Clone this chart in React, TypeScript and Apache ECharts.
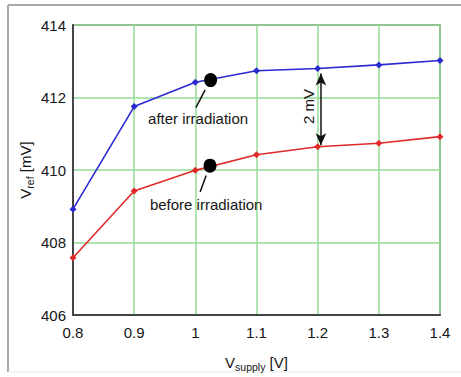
import React, { useEffect, useRef } from "react";
import * as echarts from "echarts";

const supply = [0.8, 0.9, 1.0, 1.1, 1.2, 1.3, 1.4];
const afterIrr = [408.92, 411.75, 412.42, 412.74, 412.8, 412.9, 413.02];
const beforeIrr = [407.58, 409.42, 409.99, 410.42, 410.64, 410.74, 410.92];
const dotPoints = [
  [1.025, 412.48],
  [1.024, 410.12],
];
const yTicks = { min: 406, max: 414, interval: 2 };
const xTicks = { min: 0.8, max: 1.4, interval: 0.1 };
const labelAfter = "after irradiation";
const labelBefore = "before irradiation";
const gapLabel = "2 mV";
const gapX = 1.2053;
const gapTop = 412.66;
const gapBottom = 410.68;

export default function App() {
  const ref = useRef<HTMLDivElement>(null);
  useEffect(() => {
    if (!ref.current) return;
    const chart = echarts.init(ref.current, undefined, { renderer: "svg" });
    const font = "Liberation Sans, Arial, sans-serif";
    const ink = "#151515";
    const zip = (ys: number[]) => supply.map((x, i) => [x, ys[i]]);
    const rich = {
      v: { fontFamily: font, fontSize: 15, color: ink, lineHeight: 20, verticalAlign: "middle" },
      s: { fontFamily: font, fontSize: 10.5, color: ink, lineHeight: 8, verticalAlign: "bottom" },
    };
    chart.setOption({
      animation: false,
      backgroundColor: "#ffffff",
      grid: {
        left: 73,
        right: 21,
        top: 25,
        bottom: 61,
        show: true,
        borderColor: "#5a5a5a",
        borderWidth: 1.5,
      },
      xAxis: {
        type: "value",
        min: xTicks.min,
        max: xTicks.max,
        interval: xTicks.interval,
        axisLine: { show: true, lineStyle: { color: "#444", width: 2 } },
        axisTick: { show: false },
        axisLabel: {
          margin: 10,
          fontFamily: font,
          fontSize: 15,
          color: ink,
          formatter: (v: number) => String(Math.round(v * 10) / 10),
        },
        splitLine: { show: true, lineStyle: { color: "#93dc93", width: 1.5 } },
        name: "{v|V}{s|supply}{v| [V]}",
        nameLocation: "middle",
        nameMoveOverlap: false,
        nameGap: 37,
        nameTextStyle: { rich },
      },
      yAxis: {
        type: "value",
        min: yTicks.min,
        max: yTicks.max,
        interval: yTicks.interval,
        axisLine: { show: true, lineStyle: { color: "#444", width: 2 } },
        axisTick: { show: false },
        axisLabel: { margin: 7, fontFamily: font, fontSize: 15, color: ink },
        splitLine: { show: true, lineStyle: { color: "#93dc93", width: 1.5 } },
        name: "{v|V}{s|ref}{v| [mV]}",
        nameLocation: "middle",
        nameRotate: 90,
        nameMoveOverlap: false,
        nameGap: 38,
        nameTextStyle: { rich },
      },
      series: [
        {
          type: "line",
          data: zip(afterIrr),
          symbol: "diamond",
          symbolSize: 7,
          itemStyle: { color: "#2a2ad0" },
          lineStyle: { color: "#2a2ad0", width: 1.6 },
        },
        {
          type: "line",
          data: zip(beforeIrr),
          symbol: "diamond",
          symbolSize: 7,
          itemStyle: { color: "#e02a2a" },
          lineStyle: { color: "#e02a2a", width: 1.6 },
          markLine: {
            silent: true,
            symbol: ["arrow", "arrow"],
            symbolSize: [8, 12],
            label: { show: false },
            lineStyle: { color: "#111", width: 1.5, type: "solid" },
            data: [[{ coord: [gapX, gapTop] }, { coord: [gapX, gapBottom] }]],
          },
        },
        {
          type: "scatter",
          data: dotPoints,
          symbol: "circle",
          symbolSize: [13, 14],
          itemStyle: { color: "#000", opacity: 1 },
          z: 5,
        },
      ],
    });
    const px = (x: number, y: number) => chart.convertToPixel({ gridIndex: 0 }, [x, y]) as number[];
    const a1 = px(1.016, 412.21);
    const a2 = px(1.001, 411.72);
    const b1 = px(1.0177, 409.85);
    const b2 = px(1.0078, 409.39);
    const at = px(1.0045, 411.42);
    const bt = px(1.0177, 409.05);
    const gt = px(1.1845, 411.75);
    chart.setOption({
      graphic: [
        { type: "line", shape: { x1: 8, y1: 5, x2: 461, y2: 5 }, style: { stroke: "#a8a8a8", lineWidth: 2 } },
        { type: "line", shape: { x1: 8, y1: 5, x2: 8, y2: 372 }, style: { stroke: "#a8a8a8", lineWidth: 2 } },
        { type: "line", shape: { x1: 8, y1: 372, x2: 461, y2: 372 }, style: { stroke: "#ececec", lineWidth: 1 } },
        { type: "line", shape: { x1: a1[0], y1: a1[1], x2: a2[0], y2: a2[1] }, style: { stroke: "#111", lineWidth: 1.5 } },
        { type: "line", shape: { x1: b1[0], y1: b1[1], x2: b2[0], y2: b2[1] }, style: { stroke: "#111", lineWidth: 1.5 } },
        {
          type: "text",
          x: at[0],
          y: at[1],
          style: { text: labelAfter, fontFamily: font, fontSize: 15, fill: ink, align: "center", verticalAlign: "middle" },
        },
        {
          type: "text",
          x: bt[0],
          y: bt[1],
          style: { text: labelBefore, fontFamily: font, fontSize: 15, fill: ink, align: "center", verticalAlign: "middle" },
        },
        {
          type: "text",
          x: gt[0],
          y: gt[1],
          rotation: Math.PI / 2,
          style: { text: gapLabel, fontFamily: font, fontSize: 15, fill: ink, align: "center", verticalAlign: "middle" },
        },
      ],
    });
    return () => chart.dispose();
  }, []);
  return <div ref={ref} style={{ position: "fixed", left: 0, top: 0, width: 461, height: 377 }} />;
}
